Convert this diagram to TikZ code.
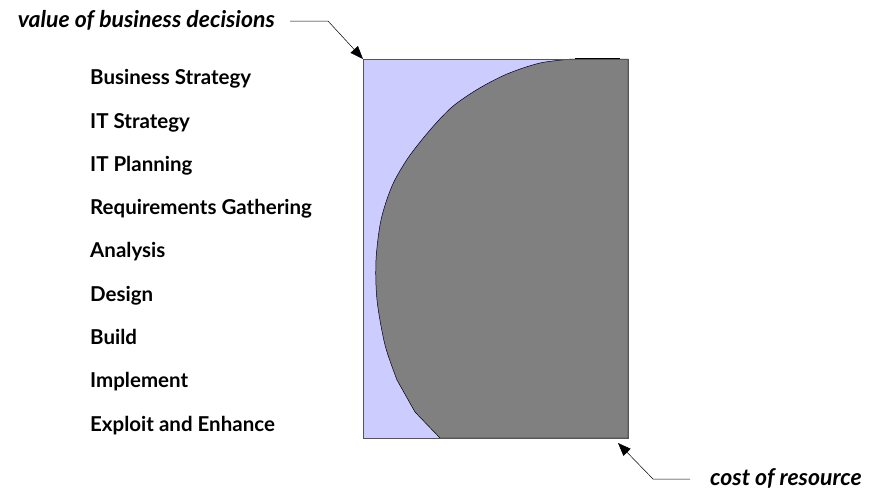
\documentclass[tikz,border=0pt]{standalone}
\usepackage{fontspec}
\setmainfont{Lato}
\usetikzlibrary{arrows.meta,calc}
\definecolor{lav}{HTML}{CCCCFF}
\definecolor{grayfill}{HTML}{808080}
\definecolor{edge}{HTML}{555555}
\begin{document}
\begin{tikzpicture}[x=1pt,y=-1pt,
  phase/.style={anchor=base west,font=\fontsize{20.5}{22}\selectfont\bfseries,inner sep=0pt},
  callout/.style={font=\fontsize{23}{25}\selectfont\bfseries\itshape,inner sep=0pt},
  pointer/.style={draw=black,line width=0.5pt,-{Triangle[length=13pt,width=10pt]}}]
\useasboundingbox (0,0) rectangle (878,488);
% box
\node[draw=edge,fill=lav,line width=0.8pt,minimum width=265pt,minimum height=379pt,inner sep=0pt,anchor=north west] (box) at (363,59) {};
% gray region
\fill[grayfill,draw=black,line width=0.5pt]
  (628,59) -- (628,438) -- (440,438) -- (415,412)
  -- plot[smooth,tension=0.5] coordinates {(397,380) (385,345) (377,300) (376,260) (381,220) (392,186) (408,158) (430,130) (452,107) (478,89) (507,74) (540,63) (572,59)} -- cycle;
\draw[edge,line width=0.8pt] (box.north west) rectangle (box.south east);
\draw[black,line width=1.2pt] (575,58.5) -- (620,58.5);
% labels
\node[phase] (p1) at (90,84) {Business Strategy};
\node[phase] (p2) at (90,128) {IT Strategy};
\node[phase] (p3) at (90,171) {IT Planning};
\node[phase] (p4) at (90,214) {Requirements Gathering};
\node[phase] (p5) at (90,257) {Analysis};
\node[phase] (p6) at (90,301) {Design};
\node[phase] (p7) at (90,344) {Build};
\node[phase] (p8) at (90,387) {Implement};
\node[phase] (p9) at (90,431) {Exploit and Enhance};
% callouts
\node[callout,anchor=base east] (val) at (275,27) {value of business decisions};
\node[callout,anchor=base west] (cost) at (710,485) {cost of resource};
\coordinate (v1) at (290,21);
\coordinate (v2) at (328,21);
\coordinate (c1) at (690,479);
\coordinate (c2) at (653,479);
\coordinate (ctip) at (618,443);
\draw[pointer] (v1) -- (v2) -- (box.north west);
\draw[pointer] (c1) -- (c2) -- (ctip);
\end{tikzpicture}
\end{document}
